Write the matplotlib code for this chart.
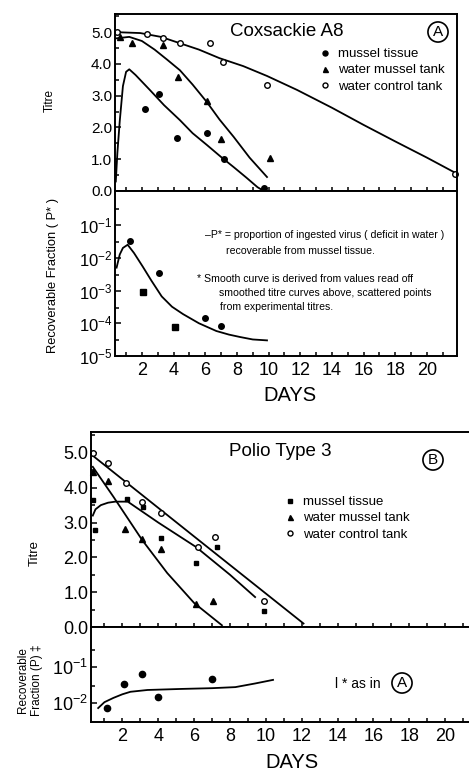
import matplotlib
matplotlib.use("Agg")
import matplotlib.pyplot as plt
from matplotlib.ticker import MultipleLocator, FixedLocator, NullFormatter, FixedFormatter
import numpy as np

plt.rcParams['font.family'] = ['Liberation Sans', 'DejaVu Sans']
plt.rcParams['mathtext.default'] = 'regular'

# ---------------- Panel A : Coxsackie A8 ----------------
a_ctrl_days = [0.4, 2.3, 3.3, 4.4, 6.3, 7.1, 9.9, 21.8]
a_ctrl_titre = [5.0, 4.94, 4.8, 4.65, 4.65, 4.07, 3.35, 0.55]
a_tank_days = [0.6, 1.35, 3.3, 4.3, 6.1, 7.0, 10.1]
a_tank_titre = [4.84, 4.66, 4.6, 3.58, 2.83, 1.63, 1.04]
a_tis_days = [2.2, 3.1, 4.2, 6.1, 7.2, 9.7]
a_tis_titre = [2.58, 3.05, 1.67, 1.82, 1.0, 0.1]

a_ctrl_curve_d = [0.3, 1.9, 3.2, 4.4, 5.6, 6.9, 8.4, 9.9, 11.8, 14.0, 16.0, 18.0, 20.0, 21.8]
a_ctrl_curve_t = [5.0, 4.97, 4.85, 4.65, 4.45, 4.18, 3.93, 3.62, 3.18, 2.62, 2.08, 1.56, 1.05, 0.57]
a_tank_curve_d = [0.3, 1.2, 2.0, 2.8, 3.6, 4.4, 5.2, 6.1, 6.9, 7.8, 8.8, 9.9]
a_tank_curve_t = [4.8, 4.85, 4.72, 4.45, 4.13, 3.8, 3.35, 2.8, 2.25, 1.7, 1.05, 0.44]
a_tis_curve_d = [0.35, 0.45, 0.6, 0.8, 1.0, 1.2, 1.6, 2.5, 3.4, 4.4, 5.2, 6.1, 7.0, 7.8, 8.6, 9.3, 9.7]
a_tis_curve_t = [0.3, 1.2, 2.2, 3.3, 3.75, 3.83, 3.65, 3.18, 2.7, 2.23, 1.82, 1.45, 1.07, 0.75, 0.42, 0.12, 0.0]

a_frac_days_c = [1.25, 3.1, 6.0, 7.0]
a_frac_c = [3.3e-2, 3.5e-3, 1.4e-4, 8.1e-5]
a_frac_days_s = [2.05, 4.1]
a_frac_s = [9.3e-4, 7.6e-5]
a_frac_curve_d = [0.4, 0.6, 0.8, 1.1, 1.5, 2.05, 2.6, 3.25, 3.9, 4.6, 5.6, 6.7, 7.5, 8.2, 9.0, 9.9]
a_frac_curve = [5.0e-3, 1.26e-2, 2.0e-2, 2.5e-2, 1.4e-2, 5.4e-3, 2.0e-3, 6.6e-4, 3.2e-4,
                1.9e-4, 1.0e-4, 5.8e-5, 4.5e-5, 3.8e-5, 3.2e-5, 3.0e-5]

# ---------------- Panel B : Polio Type 3 ----------------
b_ctrl_days = [0.37, 1.2, 2.2, 3.1, 4.15, 6.2, 7.15, 9.9]
b_ctrl_titre = [5.0, 4.72, 4.14, 3.6, 3.28, 2.3, 2.59, 0.75]
b_tank_days = [0.37, 1.2, 2.17, 3.1, 4.15, 6.1, 7.07]
b_tank_titre = [4.45, 4.2, 2.82, 2.53, 2.24, 0.66, 0.76]
b_tis_days = [0.37, 0.45, 2.27, 3.17, 4.15, 6.1, 7.25, 9.9]
b_tis_titre = [3.65, 2.8, 3.68, 3.46, 2.55, 1.84, 2.3, 0.47]

b_ctrl_curve_d = [0.35, 6.0, 12.1]
b_ctrl_curve_t = [4.92, 2.6, 0.1]
b_tank_curve_d = [0.35, 1.5, 3.1, 4.5, 6.0, 7.55]
b_tank_curve_t = [4.6, 3.74, 2.5, 1.55, 0.69, 0.05]
b_tis_curve_d = [0.35, 0.5, 0.8, 1.2, 1.6, 2.3, 4.0, 6.1, 8.0, 9.4]
b_tis_curve_t = [3.2, 3.38, 3.5, 3.57, 3.6, 3.6, 3.0, 2.3, 1.5, 0.86]

b_frac_days = [1.15, 2.1, 3.1, 4.0, 7.0]
b_frac = [7.2e-3, 3.4e-2, 6.4e-2, 1.5e-2, 4.7e-2]
b_frac_curve_d = [0.65, 1.0, 1.5, 2.0, 2.45, 3.4, 5.3, 7.0, 8.3, 9.4, 10.4]
b_frac_curve = [7.2e-3, 1.05e-2, 1.38e-2, 1.74e-2, 2.04e-2, 2.29e-2, 2.45e-2, 2.57e-2,
                2.75e-2, 3.47e-2, 4.37e-2]

titre_ticks = [0, 1, 2, 3, 4, 5]
titre_labels = ['0.0', '1.0', '2.0', '3.0', '4.0', '5.0']
day_ticks = [2, 4, 6, 8, 10, 12, 14, 16, 18, 20]
legend_labels = ['mussel tissue', 'water mussel tank', 'water control tank']

W, H = 469, 772
fig = plt.figure(figsize=(W / 100, H / 100), dpi=100)


def fx(px):
    return px / W


def fy(py):
    return 1 - py / H


LW = 1.4

axA = fig.add_axes([fx(115), fy(191), fx(457) - fx(115), fy(14) - fy(191)])
axAl = fig.add_axes([fx(115), fy(356), fx(457) - fx(115), fy(191) - fy(356)])
axB = fig.add_axes([fx(91), fy(627), 1.02 - fx(91), fy(432) - fy(627)])
axBl = fig.add_axes([fx(91), fy(722), 1.02 - fx(91), fy(627) - fy(722)])

for ax in (axA, axAl, axB, axBl):
    for s in ax.spines.values():
        s.set_linewidth(LW)
    ax.tick_params(direction='in', which='both', width=1.1)

# ---- A titre ----
axA.set_xlim(0.3, 21.9)
axA.set_ylim(0, 5.57)
axA.plot(a_ctrl_curve_d, a_ctrl_curve_t, color='black', lw=1.3)
axA.plot(a_tank_curve_d, a_tank_curve_t, color='black', lw=1.3)
axA.plot(a_tis_curve_d, a_tis_curve_t, color='black', lw=1.3)
axA.plot(a_tis_days, a_tis_titre, 'o', color='black', ms=4, label=legend_labels[0])
axA.plot(a_tank_days, a_tank_titre, '^', color='black', ms=4, label=legend_labels[1])
axA.plot(a_ctrl_days, a_ctrl_titre, 'o', mfc='white', mec='black', mew=1.0, ms=4,
         label=legend_labels[2], clip_on=False)
axA.set_yticks(titre_ticks)
axA.set_yticklabels(titre_labels)
axA.yaxis.set_minor_locator(MultipleLocator(0.5))
axA.xaxis.set_major_locator(MultipleLocator(1))
axA.tick_params(axis='x', labelbottom=False, length=3)
axA.tick_params(axis='y', labelsize=11, length=4, pad=2)
axA.tick_params(axis='y', which='minor', length=3)
fig.text(fx(287), fy(32), 'Coxsackie A8', ha='center', va='center', fontsize=13.5)
fig.text(fx(438), fy(32), 'A', ha='center', va='center', fontsize=11,
         bbox=dict(boxstyle='circle,pad=0.2', fc='white', ec='black', lw=1.2))
axA.legend(loc='upper left', bbox_to_anchor=(fx(320), fy(48)), bbox_transform=fig.transFigure,
           frameon=False, fontsize=9.5, handlelength=0.8, handletextpad=0.6,
           labelspacing=0.3, borderpad=0, borderaxespad=0, markerscale=0.9)

# ---- A fraction ----
axAl.set_xlim(0.3, 21.9)
axAl.set_yscale('log')
axAl.set_ylim(10 ** -5.0, 10 ** 0.04)
axAl.plot(a_frac_curve_d, a_frac_curve, color='black', lw=1.3)
axAl.plot(a_frac_days_c, a_frac_c, 'o', color='black', ms=4)
axAl.plot(a_frac_days_s, a_frac_s, 's', color='black', ms=4)
axAl.yaxis.set_major_locator(FixedLocator([1e-5, 1e-4, 1e-3, 1e-2, 1e-1]))
axAl.yaxis.set_major_formatter(FixedFormatter(['$10^{-5}$', '$10^{-4}$', '$10^{-3}$',
                                               '$10^{-2}$', '$10^{-1}$']))
axAl.yaxis.set_minor_locator(FixedLocator([m * 10.0 ** e for e in range(-5, 0) for m in (3,)]))
axAl.yaxis.set_minor_formatter(NullFormatter())
axAl.set_xticks(day_ticks)
axAl.xaxis.set_minor_locator(MultipleLocator(1))
axAl.tick_params(axis='x', labelsize=13, length=3, pad=4)
axAl.tick_params(axis='x', which='minor', length=3)
axAl.tick_params(axis='y', labelsize=12, length=4, pad=2)
axAl.tick_params(axis='y', which='minor', length=3)
axAl.tick_params(axis='x', which='both', top=False)

NFS = 7.6
fig.text(fx(205), fy(235), '\u2013P* = proportion of ingested virus ( deficit in water )',
         fontsize=NFS, ha='left', va='center')
fig.text(fx(226), fy(251), 'recoverable from mussel tissue.', fontsize=NFS, ha='left', va='center')
fig.text(fx(197), fy(279), '* Smooth curve is derived from values read off', fontsize=NFS,
         ha='left', va='center')
fig.text(fx(219), fy(293), 'smoothed titre curves above, scattered points', fontsize=NFS,
         ha='left', va='center')
fig.text(fx(220), fy(307), 'from experimental titres.', fontsize=NFS, ha='left', va='center')

fig.text(fx(50), fy(100), 'Titre', rotation=90, ha='center', va='center', fontsize=8.5)
fig.text(fx(53), fy(275), 'Recoverable Fraction ( P* )', rotation=90, ha='center', va='center',
         fontsize=9.3)
fig.text(fx(290), fy(395), 'DAYS', ha='center', va='center', fontsize=14.5)

# ---- B titre ----
axB.set_xlim(0.25, 21.85)
axB.set_ylim(0, 5.6)
axB.spines['right'].set_visible(False)
axB.plot(b_ctrl_curve_d, b_ctrl_curve_t, color='black', lw=1.3)
axB.plot(b_tank_curve_d, b_tank_curve_t, color='black', lw=1.3)
axB.plot(b_tis_curve_d, b_tis_curve_t, color='black', lw=1.3)
axB.plot(b_tis_days, b_tis_titre, 's', color='black', ms=3.5, label=legend_labels[0], clip_on=False)
axB.plot(b_tank_days, b_tank_titre, '^', color='black', ms=4, label=legend_labels[1], clip_on=False)
axB.plot(b_ctrl_days, b_ctrl_titre, 'o', mfc='white', mec='black', mew=1.0, ms=4,
         label=legend_labels[2], clip_on=False)
axB.set_yticks(titre_ticks)
axB.set_yticklabels(titre_labels)
axB.yaxis.set_minor_locator(MultipleLocator(0.5))
axB.xaxis.set_major_locator(MultipleLocator(1))
axB.tick_params(axis='x', labelbottom=False, length=3)
axB.tick_params(axis='y', labelsize=13, length=4, pad=2)
axB.tick_params(axis='y', which='minor', length=3)
fig.text(fx(280), fy(452), 'Polio Type 3', ha='center', va='center', fontsize=13.5)
fig.text(fx(433), fy(460), 'B', ha='center', va='center', fontsize=11,
         bbox=dict(boxstyle='circle,pad=0.2', fc='white', ec='black', lw=1.2))
axB.legend(loc='upper left', bbox_to_anchor=(fx(285), fy(496)), bbox_transform=fig.transFigure,
           frameon=False, fontsize=9.5, handlelength=0.8, handletextpad=0.6,
           labelspacing=0.3, borderpad=0, borderaxespad=0, markerscale=0.9)

# ---- B fraction ----
axBl.set_xlim(0.25, 21.85)
axBl.set_yscale('log')
axBl.set_ylim(10 ** -2.53, 10 ** 0.11)
axBl.spines['right'].set_visible(False)
axBl.plot(b_frac_curve_d, b_frac_curve, color='black', lw=1.3)
axBl.plot(b_frac_days, b_frac, 'o', color='black', ms=4.5)
axBl.yaxis.set_major_locator(FixedLocator([1e-2, 1e-1]))
axBl.yaxis.set_major_formatter(FixedFormatter(['$10^{-2}$', '$10^{-1}$']))
axBl.yaxis.set_minor_locator(FixedLocator([3e-2, 3e-1]))
axBl.yaxis.set_minor_formatter(NullFormatter())
axBl.set_xticks(day_ticks)
axBl.xaxis.set_minor_locator(MultipleLocator(1))
axBl.tick_params(axis='x', labelsize=13, length=3, pad=4)
axBl.tick_params(axis='x', which='minor', length=3)
axBl.tick_params(axis='y', labelsize=13, length=4, pad=2)
axBl.tick_params(axis='y', which='minor', length=3)
axBl.tick_params(axis='x', which='both', top=False)

fig.text(fx(358), fy(684), 'l * as in', ha='center', va='center', fontsize=10)
fig.text(fx(402), fy(683), 'A', ha='center', va='center', fontsize=11,
         bbox=dict(boxstyle='circle,pad=0.2', fc='white', ec='black', lw=1.2))

fig.text(fx(35), fy(553), 'Titre', rotation=90, ha='center', va='center', fontsize=9.5)
fig.text(fx(30), fy(680), 'Recoverable\nFraction (P) \u2021', rotation=90, ha='center',
         va='center', fontsize=8.5, multialignment='center')
fig.text(fx(292), fy(763), 'DAYS', ha='center', va='center', fontsize=14.5)

fig.savefig('out.png', dpi=100)
